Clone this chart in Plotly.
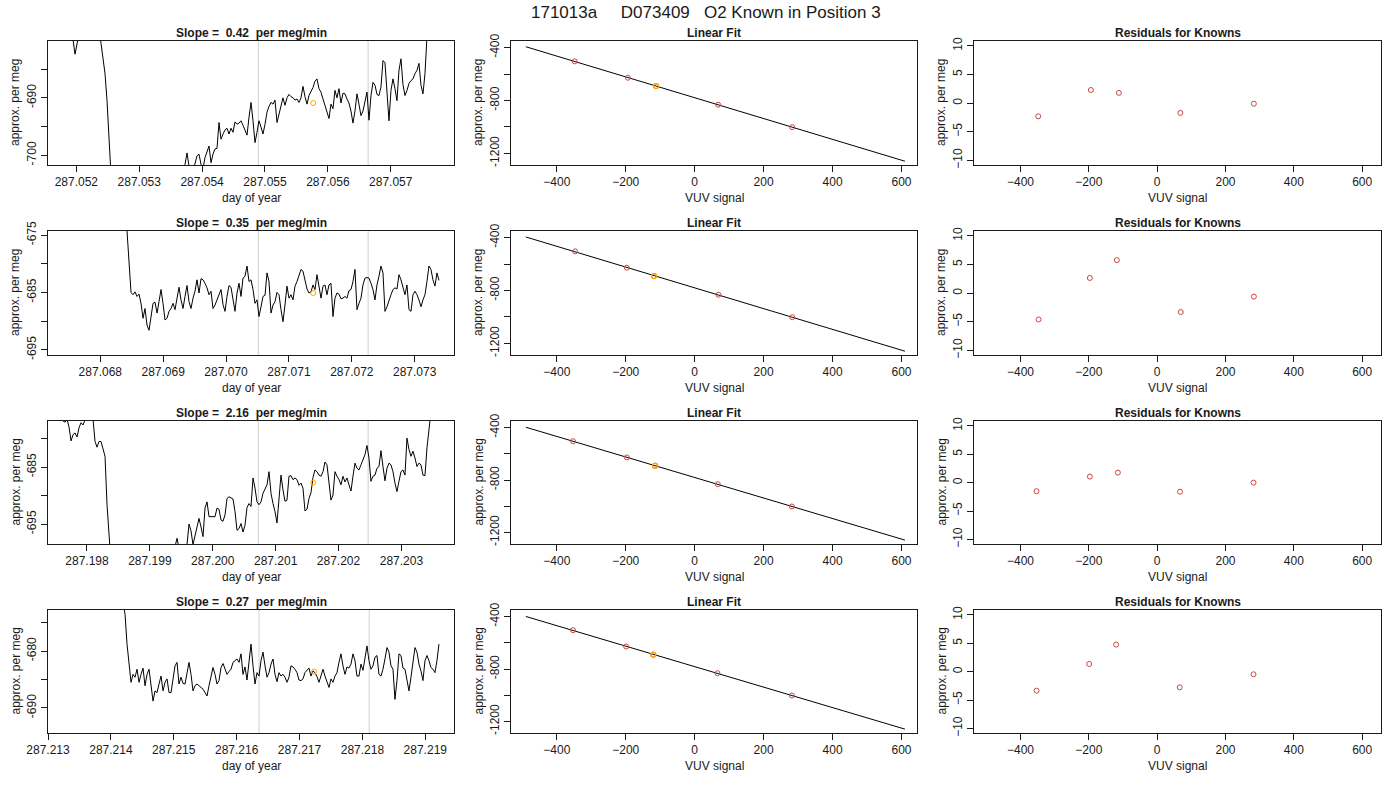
import numpy as np
import plotly.graph_objects as go

# ---- data ------------------------------------------------------------------
run_label = "171013a"
standard_id = "D073409"
known_position = 3

# time series of each run, one sample every ~2.75 s (day of year)
sample_step = 0.0000318
run_start = [287.0517884, 287.0674074, 287.1976190, 287.2132390]

run1 = [
    -675.8, -676.4, -677.0, -677.6, -678.8, -679.9, -682.4, -679.9, -678.2, -677.0,
    -676.4, -676.0, -675.8, -675.8, -676.0, -676.4, -677.0, -677.6, -678.2,
    -680.5, -682.9, -685.8, -690.5, -697.0, -703.5,
    -706.0, -707.6, -708.3, -709.1, -708.8, -708.9, -708.2, -708.1, -707.5, -707.6,
    -707.0, -706.9, -706.4, -706.3, -705.8, -705.9, -705.3, -705.4, -704.9, -705.0,
    -704.5, -704.6, -704.1, -704.2, -703.7, -703.9, -703.3, -703.5, -702.9, -703.1,
    -702.6, -702.8, -702.3, -702.5, -702.0, -702.2,
    -701.6, -699.6, -701.9, -702.7, -702.2, -701.5, -700.1, -699.8, -701.6, -702.3,
    -700.4, -699.5, -698.4, -701.3, -699.8, -698.9, -698.8, -694.3, -697.2, -696.3,
    -695.6, -695.3, -696.3, -695.3, -696.0, -694.2, -694.6, -694.4, -694.0, -694.8,
    -695.7, -696.5, -693.4, -690.8, -694.0, -697.8, -696.0, -694.0, -695.1, -696.3,
    -694.6, -692.5, -691.5, -690.8, -691.1, -690.4, -694.3, -692.8, -691.6, -690.0,
    -691.3, -690.0, -689.4, -689.8, -690.0, -690.4, -690.2, -690.8, -690.0, -688.0,
    -689.8, -691.1, -689.6, -688.9, -688.2, -687.1, -686.7, -688.4, -689.0, -690.2,
    -691.3, -692.5, -693.6, -691.1, -691.9, -688.7, -690.0, -688.4, -690.9, -689.2,
    -689.3, -690.2, -690.9, -692.3, -694.4, -692.3, -689.3, -691.1, -693.1, -692.3,
    -690.5, -689.0, -693.9, -689.6, -687.3, -687.8, -689.4, -689.6, -688.1, -683.5,
    -683.9, -688.7, -694.0, -688.7, -686.7, -688.4, -690.5, -685.2, -683.2, -687.7,
    -689.6, -688.7, -687.5, -687.0, -686.7, -685.8, -685.2, -684.0, -687.8, -689.3,
    -685.8, -679.4, -675.8, -673.5, -672.5, -672.0, -672.3, -672.0,
]
run2 = [
    -662.0, -662.5, -662.3, -663.0, -662.8, -663.4, -663.2, -663.9, -663.6, -664.3,
    -664.1, -664.7, -664.5, -665.1, -664.9, -665.5, -665.3, -665.9, -665.7, -666.2,
    -666.1, -666.6, -666.5, -667.0, -666.9, -667.4, -667.5, -668.0, -668.3, -669.0,
    -670.0, -671.5,
    -674.3, -680.1, -685.0, -685.4, -684.9, -685.7, -685.3, -686.9, -689.5, -687.8,
    -690.7, -691.6, -688.9, -686.9, -686.7, -688.6, -686.6, -684.5, -686.9, -689.8,
    -689.5, -688.3, -687.8, -686.9, -688.0, -686.3, -684.1, -686.3, -687.8, -685.7,
    -683.8, -686.6, -687.8, -686.0, -684.8, -682.8, -685.1, -682.6, -682.8, -683.4,
    -684.2, -685.4, -684.8, -687.8, -687.2, -686.3, -685.3, -684.5, -687.1, -688.3,
    -685.7, -683.8, -684.1, -686.6, -688.3, -685.1, -683.4, -685.7, -682.5, -682.2,
    -680.4, -683.1, -682.8, -684.5, -686.9, -686.3, -689.2, -687.5, -685.7, -685.5,
    -681.6, -683.1, -688.6, -687.2, -686.6, -685.0, -685.4, -688.0, -690.1, -687.2,
    -683.9, -686.0, -685.4, -686.3, -683.9, -683.1, -681.9, -681.0, -681.3, -682.8,
    -684.4, -685.1, -684.9, -683.7, -684.5, -681.9, -683.9, -686.0, -683.9, -683.7,
    -685.4, -683.7, -683.4, -689.2, -686.0, -685.1, -685.3, -686.1, -686.0, -685.7,
    -686.0, -684.7, -684.5, -683.1, -681.0, -688.0, -686.9, -686.0, -683.7, -682.5,
    -682.4, -682.5, -683.4, -684.5, -686.3, -683.7, -682.2, -680.4, -681.6, -688.3,
    -687.5, -686.3, -685.4, -684.5, -684.2, -684.4, -681.9, -682.8, -683.9, -685.4,
    -683.7, -688.0, -688.3, -685.4, -684.8, -685.4, -686.3, -687.5, -686.3, -685.4,
    -683.1, -680.4, -681.0, -682.8, -683.9, -681.6, -682.9,
]
run3 = [
    -676.9, -677.1, -676.6, -678.0, -680.4, -679.3, -679.0, -679.7, -678.1, -677.2,
    -677.6, -676.4, -675.8, -675.8, -676.1, -676.6, -680.5, -681.5, -680.5, -680.5,
    -681.6, -683.1, -691.6, -700.5,
    -702.0, -703.0, -703.5, -703.8, -703.6, -703.2, -703.0, -702.6, -702.4, -702.0,
    -701.8, -701.5, -701.2, -701.0, -700.8, -700.6, -700.5, -700.2, -700.0, -699.9,
    -700.2, -699.8, -699.6, -700.0, -699.5, -699.2, -699.6, -699.0, -699.4, -698.9,
    -699.3, -698.8, -699.0, -697.5, -699.2, -698.9, -698.7, -699.0,
    -698.6, -695.0, -696.2, -698.6, -697.0, -695.0, -694.0, -695.5, -697.2, -692.2,
    -691.1, -693.7, -693.7, -693.6, -693.7, -692.2, -692.4, -694.3, -694.5, -693.4,
    -690.5, -690.2, -690.4, -690.6, -692.8, -696.1, -695.8, -694.9, -696.4, -695.2,
    -692.1, -691.4, -691.9, -686.9, -688.7, -691.1, -691.6, -691.1, -689.6, -688.7,
    -688.1, -685.8, -689.6, -691.4, -692.8, -694.8, -691.1, -686.4, -689.0, -691.0,
    -690.8, -686.6, -686.5, -687.2, -686.9, -687.2, -688.2, -687.8, -688.7, -692.7,
    -692.4, -690.5, -689.5, -686.8, -685.5, -685.8, -686.4, -686.6, -685.8, -684.1,
    -684.6, -688.1, -690.8, -689.9, -685.8, -686.6, -687.2, -688.1, -686.6, -687.6,
    -686.9, -688.1, -689.2, -686.6, -684.3, -685.2, -685.5, -684.6, -683.7, -682.8,
    -681.2, -683.4, -687.5, -686.6, -686.4, -685.2, -684.9, -682.1, -684.9, -687.4,
    -685.2, -684.3, -684.6, -685.8, -687.8, -689.3, -687.5, -685.8, -685.5, -686.4,
    -679.9, -681.9, -683.1, -682.2, -683.4, -684.9, -684.3, -684.6, -686.4, -686.5,
    -681.6, -676.9, -672.2, -670.0, -669.0, -668.5, -668.0,
]
run4 = [
    -664.0, -664.3, -664.1, -664.6, -664.5, -664.9, -664.8, -665.2, -665.0, -665.5,
    -665.4, -665.8, -665.7, -666.1, -666.0, -666.4, -666.3, -666.7, -666.6, -667.0,
    -667.0, -667.4, -667.3, -667.8, -667.8, -668.3, -668.5, -669.0, -669.6, -670.4,
    -671.5,
    -673.5, -678.8, -682.6, -685.5, -684.1, -684.6, -683.2, -685.5, -684.1, -683.0,
    -686.1, -684.1, -683.2, -686.1, -688.8, -687.0, -687.3, -685.8, -684.4, -687.0,
    -685.5, -684.9, -687.3, -687.3, -684.6, -682.6, -682.0, -685.8, -684.6, -685.7,
    -685.8, -683.8, -682.0, -684.1, -687.0, -686.1, -685.8, -686.1, -686.4, -686.7,
    -687.3, -687.9, -686.1, -684.4, -682.9, -684.1, -685.8, -685.2, -682.9, -682.2,
    -683.2, -684.1, -683.6, -683.2, -682.0, -681.7, -681.4, -682.0, -680.5, -684.1,
    -682.8, -685.1, -682.3, -678.8, -682.6, -685.8, -683.8, -684.4, -681.7, -680.2,
    -682.6, -684.6, -683.8, -682.3, -681.4, -684.1, -685.4, -683.8, -684.4, -684.1,
    -684.6, -685.5, -684.6, -682.6, -682.8, -683.2, -683.8, -685.1, -685.2, -684.9,
    -683.8, -683.4, -683.0, -684.4, -683.5, -683.8, -684.5, -685.5, -684.1, -683.2,
    -684.4, -685.5, -686.4, -684.9, -685.5, -684.4, -683.8, -682.0, -680.5, -682.6,
    -684.1, -682.8, -683.0, -682.3, -680.5, -681.7, -684.4, -684.4, -682.3, -683.4,
    -681.4, -679.1, -681.7, -683.2, -682.6, -681.1, -680.8, -684.1, -684.4, -683.2,
    -681.4, -679.4, -680.2, -682.6, -683.2, -688.5, -685.2, -680.5, -680.8, -683.0,
    -683.2, -684.9, -687.0, -684.6, -681.7, -679.4, -680.2, -682.3, -683.5, -685.2,
    -681.7, -680.8, -681.7, -682.9, -683.2, -683.8, -681.7, -678.8,
]
runs = [run1, run2, run3, run4]

slopes = ["0.42", "0.35", "2.16", "0.27"]          # per meg/min
window_start = [287.054894, 287.070513, 287.200725, 287.216356]
window_end = [287.056640, 287.072259, 287.202471, 287.218108]
unknown_time = [287.055767, 287.071386, 287.201598, 287.217232]
unknown_value = [-690.9, -685.1, -687.7, -683.6]

left_xticks = [
    [287.052, 287.053, 287.054, 287.055, 287.056, 287.057],
    [287.068, 287.069, 287.070, 287.071, 287.072, 287.073],
    [287.198, 287.199, 287.200, 287.201, 287.202, 287.203],
    [287.213, 287.214, 287.215, 287.216, 287.217, 287.218, 287.219],
]
left_yticks = [
    [-700, -695, -690, -685],
    [-695, -690, -685, -680, -675],
    [-695, -690, -685, -680],
    [-690, -685, -680, -675],
]
left_ylabels = [
    ["-700", "", "-690", ""],
    ["-695", "", "-685", "", "-675"],
    ["-695", "", "-685", ""],
    ["-690", "", "-680", ""],
]

# knowns: VUV signal per run, assigned per meg values, residuals of the fit
known_vuv = [
    [-348, -194, -112, 68, 283],
    [-347, -197, -118, 69, 283],
    [-353, -197, -115, 67, 282],
    [-353, -199, -120, 66, 282],
]
known_per_meg = [-504, -628, -691, -832, -1002]
residuals = [
    [-2.3, 2.3, 1.8, -1.7, -0.1],
    [-4.6, 2.65, 5.76, -3.3, -0.6],
    [-1.5, 1.06, 1.76, -1.6, 0.0],
    [-3.35, 1.35, 4.76, -2.76, -0.47],
]
fit_vuv_span = [-490, 610]

vuv_ticks = [-400, -200, 0, 200, 400, 600]
fit_yticks = [-1200, -1000, -800, -600, -400]
fit_ylabels = ["-1200", "", "-800", "", "-400"]
resid_yticks = [-10, -5, 0, 5, 10]

# ---- layout ------------------------------------------------------------------
W, H = 1400, 800
FONT = "Liberation Sans, Arial, Helvetica, sans-serif"
INK = "#1a1a1a"
row_top = [41, 231, 421, 610]
row_bottom = [165, 355, 544, 733]
col_left = [48, 511, 974]
col_right = [454, 917, 1381]


def px_x(p):
    return p / W


def px_y(p):
    return 1 - p / H


fig = go.Figure()
annotations = []
shapes = []

axis_style = dict(showline=True, mirror=True, linecolor=INK, linewidth=1,
                  ticks="outside", ticklen=6, tickcolor=INK, showgrid=False,
                  zeroline=False, automargin=False,
                  tickfont=dict(family=FONT, size=12, color=INK))


def label(text, x, y, **kw):
    d = dict(text=text, x=x, y=y, xref="paper", yref="paper", showarrow=False,
             xanchor="center", yanchor="middle",
             font=dict(family=FONT, size=kw.pop("size", 12), color=INK))
    d.update(kw)
    annotations.append(d)


def add_panel(r, c, title, xtitle, xaxis_kw, yaxis_kw):
    n = r * 3 + c + 1
    s = "" if n == 1 else str(n)
    xd = [px_x(col_left[c]), px_x(col_right[c])]
    yd = [px_y(row_bottom[r]), px_y(row_top[r])]
    fig.layout["xaxis" + s] = dict(domain=xd, anchor="y" + s, **axis_style, **xaxis_kw)
    fig.layout["yaxis" + s] = dict(domain=yd, anchor="x" + s, tickangle=-90,
                                   **axis_style, **yaxis_kw)
    xm = (xd[0] + xd[1]) / 2
    ym = (yd[0] + yd[1]) / 2
    label("<b>" + title + "</b>", xm, yd[1], yshift=8)
    label(xtitle, xm, yd[0], yshift=-33)
    label("approx. per meg", xd[0], ym, xshift=-33, textangle=-90)
    return "x" + s, "y" + s


for r in range(4):
    # left: raw trace of the run
    vals = np.array(runs[r])
    t = run_start[r] + sample_step * np.arange(len(vals))
    pad = 0.04 * (t[-1] - t[0])
    xa, ya = add_panel(
        r, 0, "Slope =\u00a0 " + slopes[r] + "\u00a0 per meg/min", "day of year",
        dict(range=[t[0] - pad, t[-1] + pad], tickvals=left_xticks[r],
             ticktext=["%.3f" % v for v in left_xticks[r]]),
        dict(range=[unknown_value[r] - 10.8, unknown_value[r] + 10.8],
             tickvals=left_yticks[r], ticktext=left_ylabels[r]))
    fig.add_trace(go.Scatter(x=t, y=vals, mode="lines", xaxis=xa, yaxis=ya,
                             line=dict(color="black", width=1)))
    for xv in (window_start[r], window_end[r]):
        shapes.append(dict(type="line", xref=xa, yref=ya + " domain", x0=xv, x1=xv,
                           y0=0, y1=1, layer="below",
                           line=dict(color="#d0d0d0", width=1)))
    fig.add_trace(go.Scatter(x=[unknown_time[r]], y=[unknown_value[r]], mode="markers",
                             xaxis=xa, yaxis=ya,
                             marker=dict(symbol="circle-open", size=5, color="orange",
                                         line=dict(width=1))))

    # middle: linear fit of the knowns
    slope, icept = np.polyfit(known_vuv[r], known_per_meg, 1)
    xa, ya = add_panel(
        r, 1, "Linear Fit", "VUV signal",
        dict(range=[-533, 645], tickvals=vuv_ticks),
        dict(range=[-1288, -350], tickvals=fit_yticks, ticktext=fit_ylabels))
    fig.add_trace(go.Scatter(x=fit_vuv_span,
                             y=[slope * v + icept for v in fit_vuv_span],
                             mode="lines", xaxis=xa, yaxis=ya,
                             line=dict(color="black", width=1)))
    fig.add_trace(go.Scatter(x=known_vuv[r], y=known_per_meg, mode="markers",
                             xaxis=xa, yaxis=ya,
                             marker=dict(symbol="circle-open", size=5, color="#c84848",
                                         line=dict(width=1))))
    k = known_position - 1
    fig.add_trace(go.Scatter(x=[known_vuv[r][k]], y=[known_per_meg[k]], mode="markers",
                             xaxis=xa, yaxis=ya,
                             marker=dict(symbol="circle-open", size=5, color="orange",
                                         line=dict(width=1.3))))

    # right: residuals
    xa, ya = add_panel(
        r, 2, "Residuals for Knowns", "VUV signal",
        dict(range=[-536, 655], tickvals=vuv_ticks),
        dict(range=[-10.8, 10.85], tickvals=resid_yticks))
    fig.add_trace(go.Scatter(x=known_vuv[r], y=residuals[r], mode="markers",
                             xaxis=xa, yaxis=ya,
                             marker=dict(symbol="circle-open", size=5, color="#c84848",
                                         line=dict(width=1))))

label(run_label + "\u00a0" * 5 + standard_id + "\u00a0" * 3
      + "O2 Known in Position " + str(known_position),
      px_x(705.5), px_y(13), size=17)

fig.update_layout(width=W, height=H, margin=dict(l=0, r=0, t=0, b=0),
                  paper_bgcolor="white", plot_bgcolor="white", showlegend=False,
                  annotations=annotations, shapes=shapes,
                  font=dict(family=FONT, size=12, color=INK))

# drop the default page margin so the 1400x800 figure fills the window exactly
fig.write_html("out.html", config={"displayModeBar": False},
               post_script="document.body.style.margin = '0';")
